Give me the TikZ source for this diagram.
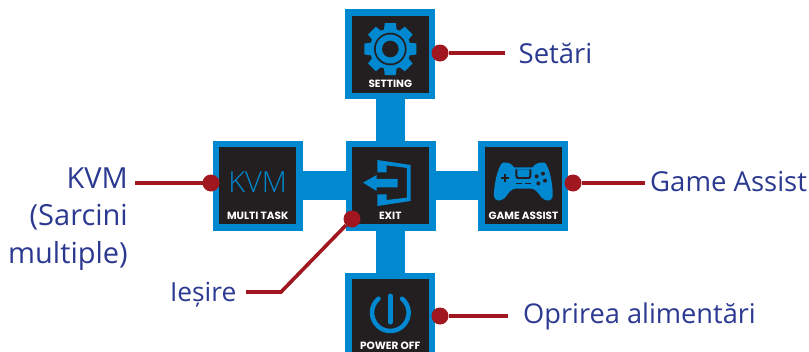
\documentclass[tikz,border=0pt]{standalone}
\usepackage{fontspec}
\setmainfont{Open Sans}
\newfontfamily\capfont{Poppins}
\definecolor{gblue}{HTML}{0088D1}
\definecolor{gblack}{HTML}{231F20}
\definecolor{gred}{HTML}{A0171F}
\definecolor{gtext}{HTML}{2B3990}
\tikzset{
  tile/.style={draw=gblue,line width=6.5pt,fill=gblack,minimum width=83.5pt,minimum height=83.5pt,inner sep=0pt,outer sep=0pt},
  capt/.style={text=white,font=\capfont\bfseries\fontsize{10.5}{11}\selectfont,inner sep=0pt,anchor=base},
  dot/.style={circle,fill=gred,minimum size=17pt,inner sep=0pt,outer sep=0pt},
  lead/.style={draw=gred,line width=3.6pt},
  lbl/.style={text=gtext,font=\fontsize{27.5}{37.5}\selectfont,inner sep=0pt},
  lblkvm/.style={text=gtext,font=\fontsize{29}{37.5}\selectfont,inner sep=0pt},
}
\begin{document}
\begin{tikzpicture}[x=1pt,y=-1pt]
\useasboundingbox (0,0) rectangle (809,351);
\begin{scope}
\clip (0,0) rectangle (809,351);
\node[tile] (setbox) at (390.2,54.2) {};
\node[tile] (exitbox) at (390.7,185.7) {};
\node[tile] (kvmbox) at (257.7,185.7) {};
\node[tile] (gamebox) at (523.2,185.7) {};
\node[tile] (powbox) at (390.2,317.8) {};
\fill[gblue] (376,99) rectangle (405,141);
\fill[gblue] (376,231) rectangle (405,273);
\fill[gblue] (303,171) rectangle (346,200);
\fill[gblue] (436,171) rectangle (478,200);
% gear
\begin{scope}[shift={(390.3,49)}]
\foreach \a in {0,45,...,315}{
  \fill[gblue,rotate=\a] (-6.5,-18) -- (-5.5,-26) -- (5.5,-26) -- (6.5,-18) -- cycle;
}
\fill[gblue] (0,0) circle (20.5);
\fill[gblack] (0,0) circle (16.3);
\fill[gblue] (0,0) circle (14.5);
\fill[gblack] (0,0) circle (8.3);
\end{scope}
% exit icon
\begin{scope}[shift={(330,130)},x=0.3333pt,y=-0.3333pt]
\fill[gblue] (142,90) -- (242,105) -- (242,213) -- (142,228) -- (142,193) -- (170,193) -- (170,210) -- (231,203) -- (231,114) -- (170,106) -- (170,127) -- (142,127) -- cycle;
\fill[gblue] (99,158) -- (140,135) -- (140,147) -- (203,147) -- (203,172) -- (140,172) -- (140,183) -- cycle;
\end{scope}
% gamepad
\begin{scope}[shift={(470,130)},x=0.3333pt,y=-0.3333pt]
\fill[gblue] (98,98) .. controls (112,96) and (125,100) .. (132,112) -- (188,112) .. controls (195,100) and (210,96) .. (224,98) .. controls (240,110) and (250,175) .. (248,200) .. controls (245,214) and (228,216) .. (215,203) .. controls (205,190) and (198,178) .. (185,176) -- (135,176) .. controls (122,178) and (115,190) .. (105,203) .. controls (92,216) and (75,214) .. (72,200) .. controls (70,175) and (82,110) .. (98,98) -- cycle;
\fill[gblack] (136,118) -- (184,118) -- (184,138) .. controls (184,144) and (180,147) .. (176,147) -- (144,147) .. controls (140,147) and (136,144) .. (136,138) -- cycle;
\fill[gblue] (142,118) -- (178,118) -- (178,136) .. controls (178,140) and (175,141) .. (172,141) -- (148,141) .. controls (145,141) and (142,140) .. (142,136) -- cycle;
\fill[gblack] (138,159) rectangle (157,163);
\fill[gblack] (164,159) rectangle (183,163);
\fill[gblack] (94,141) rectangle (118,147);
\fill[gblack] (103,132) rectangle (109,156);
\fill[gblack] (219,131) circle (6);
\fill[gblack] (200,139) circle (6);
\fill[gblack] (225,152) circle (6);
\fill[gblack] (205,160) circle (6);
\end{scope}
% power icon
\draw[gblue,line width=4.5pt,line cap=round] (390.3,312.7) ++(-50:18.3) arc[start angle=-50,end angle=230,radius=18.3];
\draw[gblue,line width=5pt,line cap=round] (390.3,296) -- (390.3,322);
% KVM
\node[text=gblue,inner sep=0pt,anchor=base,font=\fontspec{Open Sans Light}\fontsize{29}{30}\selectfont] (kvmtxt) at (257.7,192.5) {KVM};
% captions
\node[capt] (c1) at (390.3,87.5) {SETTING};
\node[capt] (c2) at (390.3,219) {EXIT};
\node[capt] (c3) at (257.7,219) {MULTI TASK};
\node[capt] (c4) at (523.5,219) {GAME ASSIST};
\node[capt] (c5) at (390.3,349.8) {POWER OFF};
\end{scope}
% labels
\node[lbl,anchor=base west] (l1) at (518.5,63) {Setări};
\node[lbl,anchor=base west] (l2) at (650,191.5) {Game Assist};
\node[lbl,anchor=base west,font=\fontsize{27.2}{37.5}\selectfont] (l3) at (523,323) {Oprirea alimentări};
\node[lbl,anchor=base east,font=\fontsize{26.3}{37.5}\selectfont] (l4) at (236.5,301) {Ieșire};
\node[lblkvm,anchor=base east] (l5) at (128,188) {KVM};
\node[lblkvm,anchor=base east] (l6) at (128,225.5) {(Sarcini};
\node[lblkvm,anchor=base east] (l7) at (128,263) {multiple)};
% leaders
\node[dot] (d1) at (440,53) {};
\node[dot] (d2) at (573,183) {};
\node[dot] (d3) at (440,316) {};
\node[dot] (d4) at (352,219) {};
\node[dot] (d5) at (211,183) {};
\coordinate (e1) at (505,53);
\coordinate (e2) at (645,183);
\coordinate (e3) at (508,316);
\coordinate (e4) at (246,292);
\coordinate (k4) at (281,292);
\coordinate (e5) at (135,183);
\draw[lead] (d1) -- (e1);
\draw[lead] (d2) -- (e2);
\draw[lead] (d3) -- (e3);
\draw[lead] (d4) -- (k4) -- (e4);
\draw[lead] (d5) -- (e5);
\end{tikzpicture}
\end{document}
